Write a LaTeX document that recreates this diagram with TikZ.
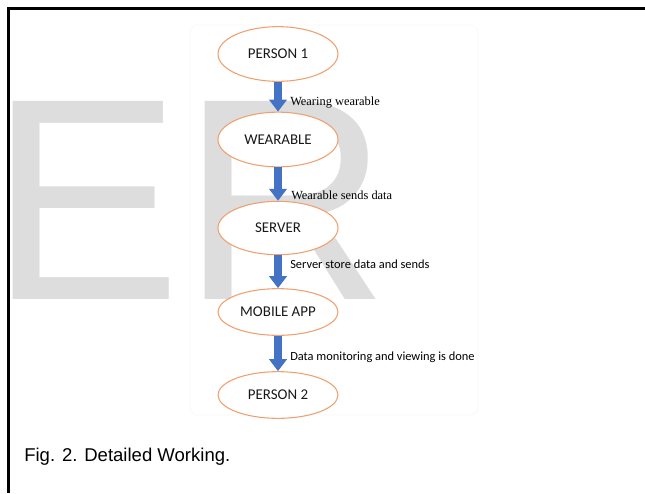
\documentclass[tikz,border=0pt]{standalone}
\usepackage{fontspec}
\setmainfont{Liberation Serif}
\newfontfamily\calibfont{Carlito}
\newfontfamily\arialfont{Liberation Sans}
\usetikzlibrary{arrows.meta,shapes.geometric}
\definecolor{stageedge}{RGB}{240,160,112}
\definecolor{flowblue}{RGB}{68,114,196}
\definecolor{markgray}{RGB}{221,221,221}

\begin{document}
\begin{tikzpicture}[x=0.75pt, y=-0.75pt,
  stage/.style={ellipse, draw=stageedge, line width=0.8pt, fill=white,
    minimum width=90pt, inner sep=0pt, text=black!90,
    font=\calibfont\fontsize{11.2}{13}\selectfont},
  flow/.style={draw=flowblue, line width=6pt,
    -{Triangle[width=13pt,length=9pt]}},
  tag/.style={anchor=west, inner sep=0pt, font=\fontsize{9.3}{11}\selectfont}]
\useasboundingbox (0,0) rectangle (645,493);
% Watermark and frame
\node[anchor=base west, inner sep=0pt, text=markgray,
  font=\arialfont\fontsize{216}{216}\selectfont] (mark) at (-11,299) {ER};
\draw[black!2, line width=1pt, rounded corners=6pt] (190,25) rectangle (478,415);
\draw[line width=1.9pt] (645,8.75) -- (8.5,8.75) -- (8.5,493);
% Stages
\node[stage, minimum height=41pt] (p1)   at (278,54)  {PERSON 1};
\node[stage, minimum height=41pt] (wear) at (278,139.5) {WEARABLE};
\node[stage, minimum height=40pt] (serv) at (278,228) {SERVER};
\node[stage, minimum height=35pt] (app)  at (278,312) {MOBILE APP};
\node[stage, minimum height=35pt] (p2)   at (278,395) {PERSON 2};
% Arrows between stages
\draw[flow] (p1.south) -- (wear.north);
\draw[flow] (wear.south) -- (serv.north);
\draw[flow] (serv.south) -- (app.north);
\draw[flow] (app.south) -- (p2.north);
% Arrow labels
\node[tag] (l1) at (290,103) {Wearing wearable};
\node[tag] (l2) at (291,195) {Wearable sends data};
\node[tag, font=\calibfont\fontsize{9.3}{11}\selectfont] (l3) at (290,264)
  {Server store data and sends};
\node[tag, font=\calibfont\fontsize{9.3}{11}\selectfont] (l4) at (290,357)
  {Data monitoring and viewing is done};
% Caption
\node[anchor=west, inner sep=0pt, font=\arialfont\fontsize{13.9}{16}\selectfont]
  (cap) at (24,457) {Fig. 2. Detailed Working.};
\end{tikzpicture}
\end{document}
